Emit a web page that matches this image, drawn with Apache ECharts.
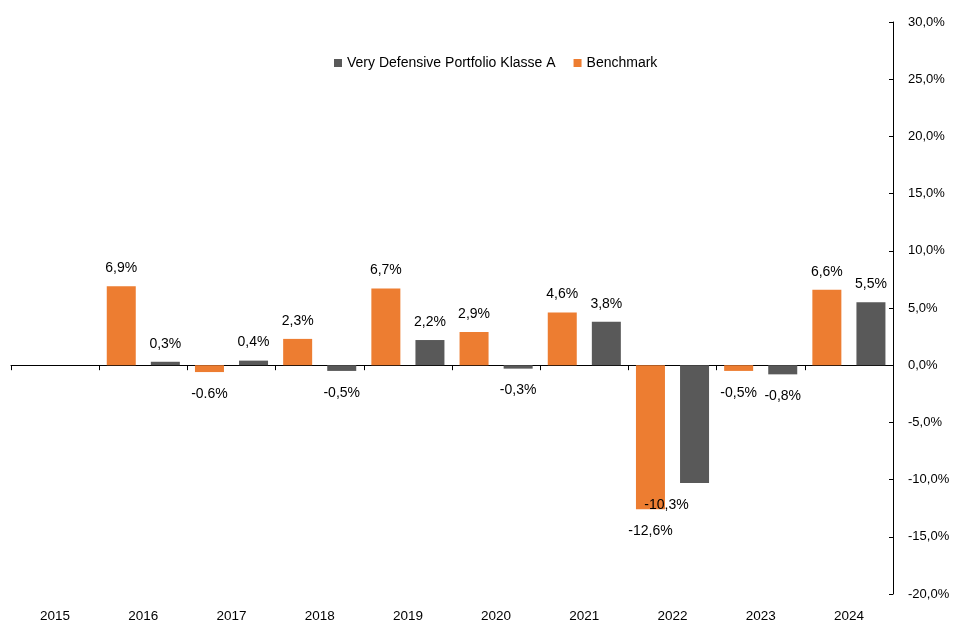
<!DOCTYPE html>
<html>
<head>
    <meta charset="utf-8">
    <title>Very Defensive Portfolio vs Benchmark</title>
    <script src="https://cdn.jsdelivr.net/npm/echarts@6/dist/echarts.min.js"></script>
    <style>
        html, body { margin: 0; padding: 0; background: #fff; }
    </style>
</head>
<body>
    <div id="main" style="width: 955px;height:624px;"></div>
    <script type="text/javascript">
        var chart = echarts.init(document.getElementById('main'));

        // data (in %)
        var years = ['2015', '2016', '2017', '2018', '2019', '2020', '2021', '2022', '2023', '2024'];
        var benchmark = [null, 6.9, -0.6, 2.3, 6.7, 2.9, 4.6, -12.6, -0.5, 6.6];
        var portfolio = [null, 0.3, 0.4, -0.5, 2.2, -0.3, 3.8, -10.3, -0.8, 5.5];
        var yTicks = [-20, -15, -10, -5, 0, 5, 10, 15, 20, 25, 30];

        var FONT = 'Liberation Sans';
        var pct = function (v) { return v.toFixed(1).replace('.', ',') + '%'; };

        // one label in the original was written with a dot
        var benchLabelText = { 2: '-0.6%' };
        // label shifted aside in the original
        var portLabelOffset = { 7: [-28, 0] };

        function toItems(arr, texts, offsets) {
            return arr.map(function (v, i) {
                if (v === null) return null;
                var txt = texts && texts[i] ? texts[i] : pct(v);
                var lbl = {
                    position: v < 0 ? 'bottom' : 'top',
                    distance: v < 0 ? 15 : 11,
                    formatter: function () { return txt; }
                };
                if (offsets && offsets[i]) lbl.offset = offsets[i];
                return { value: v, label: lbl };
            });
        }

        var option = {
            animation: false,
            textStyle: { fontFamily: FONT },
            legend: {
                data: ['Very Defensive Portfolio Klasse A', 'Benchmark'],
                left: 329,
                top: 51,
                icon: 'rect',
                itemWidth: 8,
                itemHeight: 8,
                itemGap: 18,
                textStyle: { fontFamily: FONT, fontSize: 14, color: '#000' }
            },
            grid: { left: 11, right: 62, top: 22, bottom: 30 },
            xAxis: [{
                type: 'category',
                data: years,
                position: 'bottom',
                axisLine: { show: false, onZero: false },
                axisTick: { show: false },
                axisLabel: { margin: 15, fontSize: 13.5, color: '#000', fontFamily: FONT }
            }, {
                type: 'category',
                data: years,
                position: 'top',
                axisLine: { show: true, onZero: true, lineStyle: { color: '#000', width: 1 } },
                axisTick: { show: true, inside: true, length: 5, lineStyle: { color: '#000' } },
                axisLabel: { show: false }
            }],
            yAxis: {
                type: 'value',
                position: 'right',
                min: yTicks[0],
                max: yTicks[yTicks.length - 1],
                interval: 5,
                axisLine: { show: true, lineStyle: { color: '#000', width: 1 } },
                axisTick: { show: true, inside: true, length: 4, lineStyle: { color: '#000' } },
                splitLine: { show: false },
                axisLabel: {
                    margin: 15,
                    fontSize: 13,
                    color: '#000',
                    fontFamily: FONT,
                    formatter: function (v) { return pct(v); }
                }
            },
            series: [{
                name: 'Benchmark',
                type: 'bar',
                xAxisIndex: 0,
                barWidth: 29,
                barGap: '52%',
                itemStyle: { color: '#ED7D31' },
                label: { show: true, fontSize: 14, color: '#000', fontFamily: FONT },
                data: toItems(benchmark, benchLabelText)
            }, {
                name: 'Very Defensive Portfolio Klasse A',
                type: 'bar',
                xAxisIndex: 0,
                barWidth: 29,
                barGap: '52%',
                itemStyle: { color: '#595959' },
                label: { show: true, fontSize: 14, color: '#000', fontFamily: FONT },
                data: toItems(portfolio, null, portLabelOffset)
            }]
        };

        chart.setOption(option);
    </script>
</body>
</html>
